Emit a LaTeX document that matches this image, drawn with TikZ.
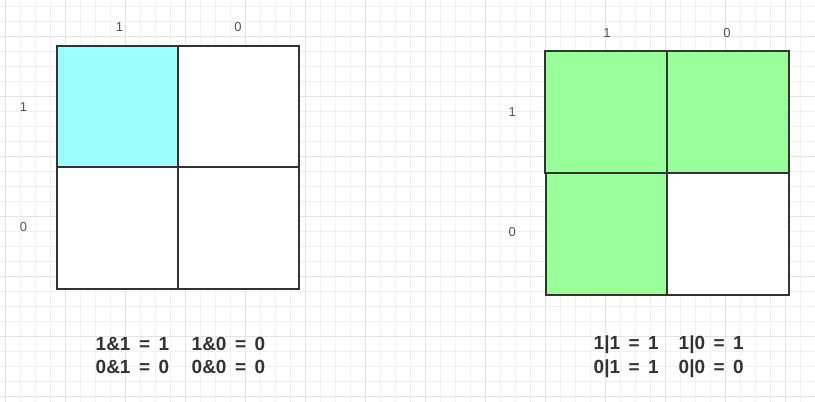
\documentclass[tikz,border=0pt]{standalone}
\usepackage{fontspec}
\setmainfont{Liberation Sans}
\definecolor{gridminor}{HTML}{F1F1F1}
\definecolor{gridmajor}{HTML}{E3E3E3}
\definecolor{stroke}{HTML}{333333}
\definecolor{cyanfill}{HTML}{99FFFF}
\definecolor{greenfill}{HTML}{99FF99}
\definecolor{labelgray}{HTML}{555555}
\newcommand{\fsp}{\hspace{8.5pt}}
\tikzset{
  cell/.style={draw=stroke, line width=2pt},
  axislabel/.style={text=labelgray, font=\fontsize{13}{15}\selectfont, inner sep=0pt, anchor=center},
  formula/.style={text=stroke, font=\fontsize{19}{23}\bfseries\selectfont, inner sep=0pt, anchor=base west},
}
\begin{document}
\begin{tikzpicture}[x=1pt, y=-1pt]
\useasboundingbox (0,0) rectangle (815,402);
\fill[white] (0,0) rectangle (815,402);
% grid
\foreach \x in {5.7,20.7,...,815} \draw[gridminor, line width=1pt] (\x,0) -- (\x,402);
\foreach \y in {6.7,21.7,...,402} \draw[gridminor, line width=1pt] (0,\y) -- (815,\y);
\foreach \x in {5.7,65.7,...,815} \draw[gridmajor, line width=1pt] (\x,0) -- (\x,402);
\foreach \y in {36.7,96.7,...,402} \draw[gridmajor, line width=1pt] (0,\y) -- (815,\y);

% left diagram (AND)
\draw[cell, fill=cyanfill] (57,46) rectangle (178,167);
\draw[cell, fill=white] (178,46) rectangle (299,167);
\draw[cell, fill=white] (57,167) rectangle (178,289);
\draw[cell, fill=white] (178,167) rectangle (299,289);

\node[axislabel] (lc1) at (119.5,27.4) {1};
\node[axislabel] (lc0) at (238,27.4) {0};
\node[axislabel] (lr1) at (23.5,106.7) {1};
\node[axislabel] (lr0) at (23.5,226.7) {0};

\node[formula] (and11) at (95.5,350) {1\&1\fsp=\fsp1};
\node[formula] (and10) at (191.5,350) {1\&0\fsp=\fsp0};
\node[formula] (and01) at (95.5,373.3) {0\&1\fsp=\fsp0};
\node[formula] (and00) at (191.5,373.3) {0\&0\fsp=\fsp0};

% right diagram (OR)
\draw[cell, fill=greenfill] (545,51) rectangle (667,173);
\draw[cell, fill=greenfill] (667,51) rectangle (789,173);
\draw[cell, fill=greenfill] (546,173) rectangle (667,295);
\draw[cell, fill=white] (667,173) rectangle (789,295);

\node[axislabel] (rc1) at (607,33) {1};
\node[axislabel] (rc0) at (727,33) {0};
\node[axislabel] (rr1) at (512.3,112.3) {1};
\node[axislabel] (rr0) at (512.3,231.7) {0};

\node[formula] (or11) at (593.5,349.5) {1|1\fsp=\fsp1};
\node[formula] (or10) at (678.5,349.5) {1|0\fsp=\fsp1};
\node[formula] (or01) at (593.5,373) {0|1\fsp=\fsp1};
\node[formula] (or00) at (678.5,373) {0|0\fsp=\fsp0};
\end{tikzpicture}
\end{document}
